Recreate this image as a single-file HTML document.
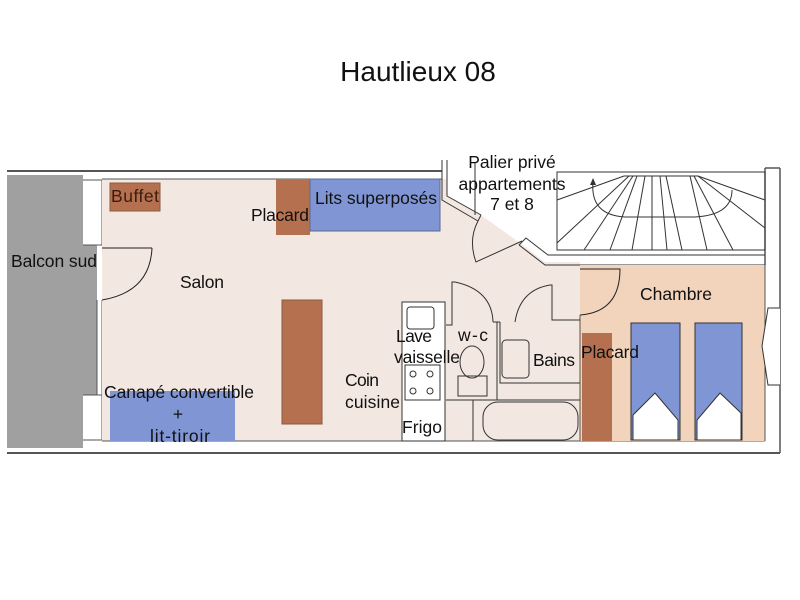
<!DOCTYPE html>
<html><head><meta charset="utf-8"><style>
body{margin:0;background:#fff;}
svg{display:block;font-family:"Liberation Sans","DejaVu Sans",sans-serif;}
</style></head><body>
<svg width="800" height="600" viewBox="0 0 800 600" xmlns="http://www.w3.org/2000/svg">
<rect width="800" height="600" fill="#fff"/>
<text x="418" y="81" font-size="28" text-anchor="middle" fill="#111">Hautlieux 08</text>
<polyline points="7,171 442,171" stroke="#555" stroke-width="2" fill="none"/>
<polyline points="7,453 780,453" stroke="#555" stroke-width="2" fill="none"/>
<line x1="780" y1="168" x2="780" y2="453" stroke="#555" stroke-width="1.5"/>
<line x1="765" y1="168" x2="780" y2="168" stroke="#555" stroke-width="1.5"/>
<line x1="765" y1="168" x2="765" y2="265" stroke="#555" stroke-width="1.5"/>
<rect x="7" y="175" width="76" height="273" fill="#a0a0a0"/>
<rect x="83" y="245" width="14" height="55" fill="#a0a0a0"/>
<rect x="83" y="300" width="14" height="95" fill="#a0a0a0"/>
<line x1="83" y1="180" x2="102" y2="180" stroke="#555"/>
<line x1="83" y1="245" x2="102" y2="245" stroke="#555"/>
<line x1="83" y1="395" x2="102" y2="395" stroke="#555"/>
<line x1="83" y1="440" x2="102" y2="440" stroke="#555"/>
<line x1="102" y1="180" x2="102" y2="245" stroke="#555"/>
<line x1="102" y1="300" x2="102" y2="440" stroke="#555"/>
<line x1="97" y1="300" x2="97" y2="395" stroke="#555"/>
<g font-size="17.5" fill="#111">
<text x="11" y="267" textLength="86">Balcon sud</text>
</g>
<polygon points="102,179 447,179 447,196 481,215 520,243 545,262 580,262 580,441 102,441" fill="#f3e7e1"/>
<line x1="102" y1="179" x2="442" y2="179" stroke="#555"/>
<line x1="102" y1="441" x2="765" y2="441" stroke="#555"/>
<line x1="102" y1="248" x2="152" y2="248" stroke="#222"/>
<path d="M152,248 Q150,292 102,300" stroke="#222" fill="none"/>
<rect x="110" y="183" width="50" height="28" fill="#b5714f" stroke="#8a5a40"/>
<rect x="276" y="179" width="34" height="56" fill="#b5714f"/>
<rect x="310" y="179" width="130" height="52" fill="#8096d4" stroke="#5a6a90"/>
<rect x="282" y="300" width="40" height="124" fill="#b5714f" stroke="#8a5a40"/>
<rect x="110" y="391" width="125" height="50" fill="#8096d4"/>
<g font-size="17.5" fill="#111">
<text x="111" y="202" fill="#3a1c10" textLength="48">Buffet</text>
<text x="315" y="204" textLength="122">Lits superposés</text>
<text x="251" y="221" textLength="58">Placard</text>
<text x="180" y="288" textLength="44">Salon</text>
<text x="104" y="398" textLength="150">Canapé convertible</text>
<text x="178" y="420" text-anchor="middle">+</text>
<text x="150" y="442" textLength="60">lit-tiroir</text>
<text x="345" y="386" textLength="34">Coin</text>
<text x="345" y="408" textLength="55">cuisine</text>
</g>
<polyline points="442,160 442,200 478,221" stroke="#333" fill="none"/>
<polyline points="447,160 447,196 481,215" stroke="#333" fill="none"/>
<line x1="478" y1="221" x2="481" y2="215" stroke="#333"/>
<line x1="475" y1="163" x2="475" y2="215" stroke="#333"/>
<path d="M478,221 Q468,240 476,262 L522,241" stroke="#333" fill="none"/>
<polyline points="519,245 526,238 548,255 765,255" stroke="#333" fill="none"/>
<polyline points="519,245 545,265 765,265" stroke="#333" fill="none"/>
<g font-size="17.5" fill="#111" text-anchor="middle">
<text x="512" y="168">Palier privé</text>
<text x="512" y="190">appartements</text>
<text x="512" y="210">7 et 8</text>
</g>
<rect x="557" y="172" width="208" height="78" fill="none" stroke="#333"/>
<g stroke="#333" fill="none">
<line x1="624" y1="172" x2="698" y2="172"/>
<line x1="624" y1="176" x2="557" y2="200"/>
<line x1="629" y1="176" x2="557" y2="243"/>
<line x1="633" y1="176" x2="584" y2="250"/>
<line x1="637" y1="176" x2="610" y2="250"/>
<line x1="645" y1="176" x2="632" y2="250"/>
<line x1="652" y1="176" x2="652" y2="250"/>
<line x1="660" y1="176" x2="667" y2="250"/>
<line x1="666" y1="176" x2="682" y2="250"/>
<line x1="690" y1="176" x2="707" y2="250"/>
<line x1="694" y1="176" x2="733" y2="250"/>
<line x1="698" y1="176" x2="765" y2="228"/>
<line x1="698" y1="176" x2="765" y2="200"/>
<line x1="624" y1="176" x2="698" y2="176"/>
<path d="M593,182 Q590,215 625,217 L695,217 Q732,215 732,190"/>
</g>
<polygon points="593,178 590,185 596,185" fill="#333"/>
<rect x="580" y="265" width="185" height="176" fill="#f2d3bc"/>
<line x1="765" y1="265" x2="765" y2="441" stroke="#555"/>
<path d="M580,269 L620,269 Q620,312 580,315" stroke="#222" fill="none"/>
<line x1="580" y1="315" x2="580" y2="441" stroke="#555"/>
<rect x="582" y="333" width="30" height="108" fill="#b5714f"/>
<rect x="631" y="323" width="49" height="117" fill="#8096d4" stroke="#333"/>
<rect x="695" y="323" width="47" height="117" fill="#8096d4" stroke="#333"/>
<g stroke="#333" fill="#fff">
<polygon points="633,415 655,393 678,420 678,440 633,440"/>
<polygon points="697,420 720,393 741,413 741,440 697,440"/>
</g>
<polyline points="780,308 768,308 762,346 768,385 780,385" stroke="#333" fill="#fff"/>
<g font-size="17.5" fill="#111">
<text x="640" y="300" textLength="72">Chambre</text>
<text x="581" y="358" textLength="58">Placard</text>
</g>
<rect x="402" y="302" width="43" height="139" fill="#fff" stroke="#333"/>
<rect x="407" y="307" width="27" height="22" rx="3" fill="#fff" stroke="#333"/>
<rect x="405" y="365" width="35" height="35" fill="#fff" stroke="#333"/>
<g fill="none" stroke="#333"><circle cx="413" cy="374" r="3"/><circle cx="430" cy="374" r="3"/><circle cx="413" cy="391" r="3"/><circle cx="430" cy="391" r="3"/></g>
<g stroke="#333" fill="none">
<polyline points="446,325 452,325 452,282 455,282"/>
<path d="M455,282 Q492,290 493,322"/>
<line x1="493" y1="322" x2="500" y2="322"/>
<line x1="497" y1="322" x2="497" y2="400"/>
<line x1="446" y1="400" x2="580" y2="400"/>
<polyline points="500,322 500,383 580,383"/>
<path d="M515,322 Q520,290 550,285 L552,285 L552,320 L580,320"/>
<line x1="473" y1="400" x2="473" y2="441"/>
<rect x="483" y="402" width="95" height="38" rx="15"/>
<rect x="502" y="340" width="27" height="38" rx="4"/>
<ellipse cx="472" cy="362" rx="12" ry="16"/>
<rect x="458" y="376" width="29" height="20"/>
</g>
<g font-size="17.5" fill="#111">
<text x="396" y="342" textLength="36">Lave</text>
<text x="394" y="363" textLength="66">vaisselle</text>
<text x="402" y="433" textLength="40">Frigo</text>
<text x="458" y="341" textLength="30">w-c</text>
<text x="533" y="366" textLength="42">Bains</text>
</g>
</svg>
</body></html>
